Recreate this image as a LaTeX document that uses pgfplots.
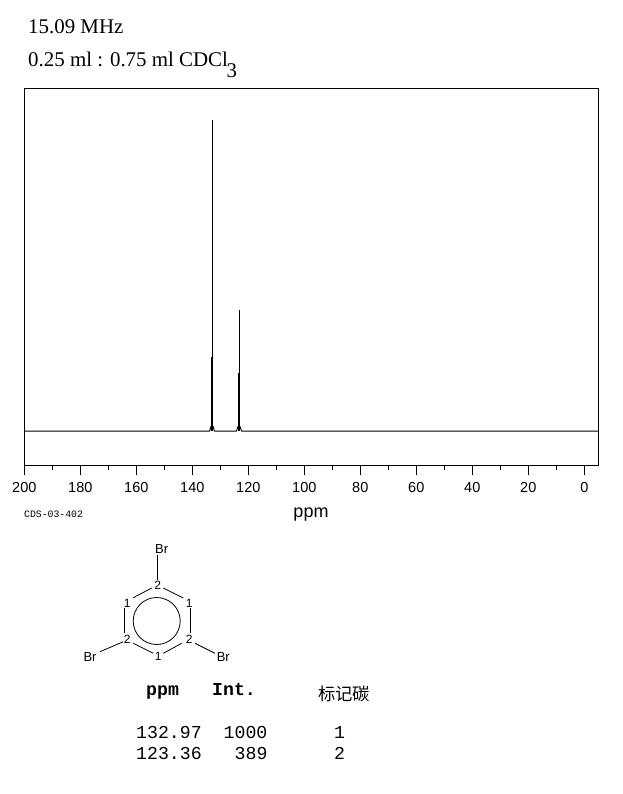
\documentclass[border=0pt]{standalone}
\usepackage{pgfplots}
\pgfplotsset{compat=1.18}
\usepackage{fontspec}
\setmainfont{Liberation Sans}
\newfontfamily\serifx{Liberation Serif}
\newfontfamily\monox{Liberation Mono}
\newfontfamily\cjk{Noto Sans CJK SC}
\begin{document}
\begin{tikzpicture}[x=1pt,y=-1pt]
\path (0,0) rectangle (622,794);
\begin{axis}[
  at={(24.8pt,-465pt)},anchor=south west,
  scale only axis,width=573.5pt,height=376pt,
  x dir=reverse,xmin=-4.82,xmax=200,
  ymin=-109.3,ymax=1099.7,
  axis line style={line width=1pt},
  xtick={0,20,...,200},minor xtick={10,30,...,190},
  ytick=\empty,
  tick align=outside,xtick pos=bottom,
  major tick length=10pt,minor tick length=5pt,
  every tick/.style={black,line width=0.9pt},
  minor tick style={black,line width=0.9pt},
  xticklabel style={font=\fontsize{14.5}{15}\selectfont,yshift=-3.5pt,xshift=-0.5pt},
  /pgf/number format/assume math mode=true,
  /pgf/number format/set thousands separator={},
]
% baseline with the small feet of the two peaks
\addplot[black,line width=1pt,sharp plot,line join=bevel] coordinates {
 (200,0) (134.0,0) (133.5,14) (132.97,14) (132.7,14) (132.3,0)
 (124.4,0) (123.9,14) (123.36,14) (123.1,14) (122.6,0) (-4.82,0)
};
% main lines
\addplot[black,line width=0.9pt,sharp plot] coordinates {(132.97,0) (132.97,1000)};
\addplot[black,line width=0.9pt,sharp plot] coordinates {(123.36,0) (123.36,389)};
% shoulders
\addplot[black,line width=0.9pt,sharp plot] coordinates {(133.33,0) (133.33,238)};
\addplot[black,line width=0.9pt,sharp plot] coordinates {(123.72,0) (123.72,186)};
\end{axis}
% header text
\node[anchor=base west,font=\serifx\fontsize{20.9}{21}\selectfont,inner sep=0pt] at (28,33.5) {15.09 MHz};
\node[anchor=base west,font=\serifx\fontsize{20.9}{21}\selectfont,inner sep=0pt] at (28,66.5) {0.25 ml : 0.75 ml CDCl};
\node[anchor=base west,font=\serifx\fontsize{20.9}{21}\selectfont,inner sep=0pt] at (226.5,78) {3};
% axis captions
\node[font=\fontsize{18}{18}\selectfont,inner sep=0pt] at (311,515) {ppm};
\node[anchor=west,font=\monox\fontsize{9.8}{10}\selectfont,inner sep=0pt] at (24,514) {CDS-03-402};
% molecule
\begin{scope}[line width=0.8pt]
\draw (157.7,555)--(157.7,580);
\draw (151.7,588)--(133.3,597.7);
\draw (163.3,588)--(183.3,598);
\draw (124,608)--(124,633);
\draw (190,608)--(190,633);
\draw (133.3,643.3)--(153.3,653.3);
\draw (181.7,643.3)--(163.3,653.3);
\draw (100,651.7)--(123.3,641.7);
\draw (195,643.3)--(215,653.3);
\draw (156.7,621) circle (23.5);
\end{scope}
\begin{scope}[every node/.style={inner sep=0pt,font=\fontsize{12}{12}\selectfont}]
\node[font=\fontsize{13}{13}\selectfont] at (161.7,549.5) {Br};
\node[font=\fontsize{13}{13}\selectfont] at (90,657) {Br};
\node[font=\fontsize{13}{13}\selectfont] at (223.3,657) {Br};
\node at (157.7,585.5) {2};
\node at (127.3,603) {1};
\node at (189.3,603) {1};
\node at (127.3,639.3) {2};
\node at (189.3,639.3) {2};
\node at (158.3,656.7) {1};
\end{scope}
% peak table
\begin{scope}[every node/.style={anchor=base west,inner sep=0pt,font=\monox\fontsize{18.2}{19}\selectfont}]
\node[font=\monox\bfseries\fontsize{18.2}{19}\selectfont] at (146,695) {ppm};
\node[font=\monox\bfseries\fontsize{18.2}{19}\selectfont] at (212,695) {Int.};
\node at (136,738) {132.97};
\node at (223.5,738) {1000};
\node at (334,738) {1};
\node at (136,759) {123.36};
\node at (234.5,759) {389};
\node at (334,759) {2};
\end{scope}
\node[anchor=west,inner sep=0pt,font=\cjk\fontsize{17.3}{18}\selectfont] at (318,694) {标记碳};
\end{tikzpicture}
\end{document}
